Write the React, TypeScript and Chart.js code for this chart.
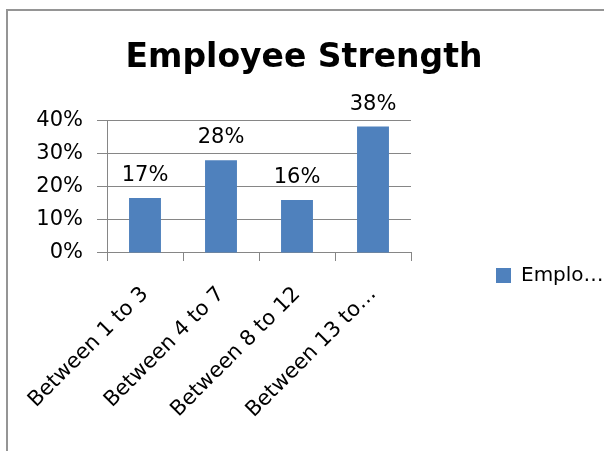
import React, { useEffect, useRef } from "react";
import { Chart, registerables } from "chart.js";

Chart.register(...registerables);

const categories: string[] = ["Between 1 to 3", "Between 4 to 7", "Between 8 to 12", "Between 13 to…"];
const seriesName = "Emplo…";
const values: number[] = [0.166, 0.28, 0.16, 0.382];
const yTicks: number[] = [0, 0.1, 0.2, 0.3, 0.4];
const chartTitle = "Employee Strength";

const FONT = "'DejaVu Sans', sans-serif";
const GRID = "#868686";
const LEGEND_WIDTH = 198;

const pct = (v: number) => Math.round(v * 100) + "%";

const dataLabelPlugin = {
  id: "dataLabels",
  afterDatasetsDraw(chart: any) {
    const ctx = chart.ctx;
    const meta = chart.getDatasetMeta(0);
    ctx.save();
    ctx.font = `21px ${FONT}`;
    ctx.fillStyle = "#000";
    ctx.textAlign = "center";
    ctx.textBaseline = "alphabetic";
    meta.data.forEach((bar: any, i: number) => {
      const v = chart.data.datasets[0].data[i] as number;
      ctx.fillText(pct(v), bar.x, bar.y - 17);
    });
    ctx.restore();
  },
};

const legendWidthPlugin = {
  id: "legendWidth",
  afterInit(chart: any) {
    const lg = chart.legend;
    if (!lg) return;
    const orig = lg.fit;
    lg.fit = function () {
      orig.call(this);
      this.width = LEGEND_WIDTH;
    };
  },
};

export default function App() {
  const ref = useRef<HTMLCanvasElement | null>(null);
  useEffect(() => {
    if (!ref.current) return;
    const chart = new Chart(ref.current, {
      type: "bar",
      data: {
        labels: categories,
        datasets: [
          {
            label: seriesName,
            data: values,
            backgroundColor: "#4F81BD",
            barPercentage: 0.42,
            categoryPercentage: 1,
          },
        ],
      },
      options: {
        animation: false,
        responsive: false,
        devicePixelRatio: 1,
        layout: { padding: 0 },
        plugins: {
          title: {
            display: true,
            text: chartTitle,
            color: "#000",
            font: { family: FONT, size: 33, weight: "bold" },
            padding: { top: 29, bottom: 42 },
          },
          legend: {
            position: "right",
            labels: {
              boxWidth: 15,
              boxHeight: 15,
              padding: 85,
              color: "#000",
              font: { family: FONT, size: 20 },
            },
          },
          tooltip: { enabled: false },
        },
        scales: {
          x: {
            grid: { display: true, drawOnChartArea: false, tickLength: 8, color: GRID },
            border: { display: true, color: GRID },
            ticks: {
              minRotation: 45,
              maxRotation: 45,
              autoSkip: false,
              padding: 21,
              color: "#000",
              font: { family: FONT, size: 21 },
            },
            afterFit: (s: any) => {
              s.height = 288;
              s.paddingLeft = 0;
              s.paddingRight = 0;
            },
          },
          y: {
            min: 0,
            max: 0.4,
            afterBuildTicks: (s: any) => {
              s.ticks = yTicks.map((v) => ({ value: v }));
            },
            ticks: {
              stepSize: 0.1,
              padding: 14,
              color: "#000",
              font: { family: FONT, size: 21 },
              callback: (v: any) => pct(Number(v)),
            },
            grid: { color: GRID, tickLength: 10 },
            border: { display: true, color: GRID },
            afterFit: (s: any) => {
              s.width = 108;
            },
          },
        },
      },
      plugins: [dataLabelPlugin, legendWidthPlugin],
    });
    return () => chart.destroy();
  }, []);

  return (
    <div
      style={{
        position: "fixed",
        left: 0,
        top: 0,
        width: 604,
        height: 451,
        overflow: "hidden",
        background: "#fff",
      }}
    >
      <div
        style={{
          position: "absolute",
          left: 6,
          top: 9,
          width: 1000,
          height: 1000,
          borderLeft: "2px solid #959595",
          borderTop: "2px solid #959595",
        }}
      />
      <canvas
        ref={ref}
        width={610}
        height={531}
        style={{ position: "absolute", left: -1, top: 10, width: 610, height: 531 }}
      />
    </div>
  );
}
